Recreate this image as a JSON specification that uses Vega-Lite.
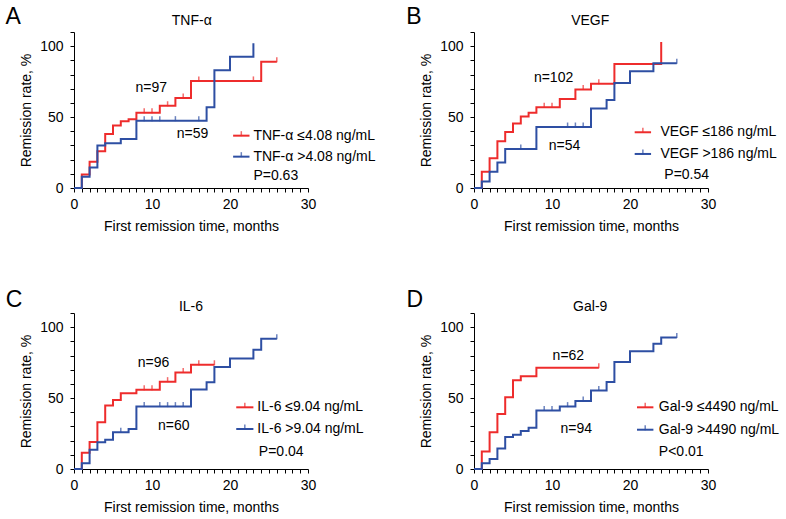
{
"$schema":"https://vega.github.io/schema/vega-lite/v6.json",
"padding":{"left":5,"top":6,"right":0,"bottom":0},
"background":"white",
"config":{"view":{"stroke":null},"font":"Liberation Sans",
 "axis":{"domainColor":"black","tickColor":"black","labelColor":"black","titleColor":"black","labelFontSize":14,"titleFontSize":14,"titleFontWeight":"normal","grid":false,"tickSize":4,"labelPadding":5,"labelOverlap":false,"labelFlush":false,"labelFont":"Liberation Sans","titleFont":"Liberation Sans"},
 "axisY":{"labelPadding":7},
 "text":{"font":"Liberation Sans","fontSize":14,"color":"black"}},
"datasets":{
 "curves":[
  {"p":"A","g":"low","t":0,"r":0},{"p":"A","g":"low","t":1,"r":9.5},{"p":"A","g":"low","t":2,"r":18.5},{"p":"A","g":"low","t":3,"r":26},{"p":"A","g":"low","t":4,"r":38},{"p":"A","g":"low","t":5,"r":44},{"p":"A","g":"low","t":6,"r":47},{"p":"A","g":"low","t":7,"r":48.5},{"p":"A","g":"low","t":8,"r":53},{"p":"A","g":"low","t":11,"r":58},{"p":"A","g":"low","t":13,"r":63.5},{"p":"A","g":"low","t":15,"r":75.5},{"p":"A","g":"low","t":24,"r":89},{"p":"A","g":"low","t":26,"r":89},
  {"p":"A","g":"high","t":0,"r":0},{"p":"A","g":"high","t":1,"r":8},{"p":"A","g":"high","t":2,"r":14.5},{"p":"A","g":"high","t":3,"r":30},{"p":"A","g":"high","t":4,"r":31.5},{"p":"A","g":"high","t":6,"r":34.5},{"p":"A","g":"high","t":8,"r":47.5},{"p":"A","g":"high","t":17,"r":57},{"p":"A","g":"high","t":18,"r":83},{"p":"A","g":"high","t":20,"r":92.5},{"p":"A","g":"high","t":23,"r":102},
  {"p":"B","g":"low","t":0,"r":0},{"p":"B","g":"low","t":1,"r":11.5},{"p":"B","g":"low","t":2,"r":21},{"p":"B","g":"low","t":3,"r":33},{"p":"B","g":"low","t":4,"r":39.5},{"p":"B","g":"low","t":5,"r":45.5},{"p":"B","g":"low","t":6,"r":50.5},{"p":"B","g":"low","t":7,"r":53},{"p":"B","g":"low","t":8,"r":57},{"p":"B","g":"low","t":11,"r":62.8},{"p":"B","g":"low","t":13,"r":69.5},{"p":"B","g":"low","t":15,"r":73.5},{"p":"B","g":"low","t":18,"r":87.5},{"p":"B","g":"low","t":24,"r":103},
  {"p":"B","g":"high","t":0,"r":0},{"p":"B","g":"high","t":1,"r":4.5},{"p":"B","g":"high","t":2,"r":11.5},{"p":"B","g":"high","t":3,"r":18},{"p":"B","g":"high","t":4,"r":27.5},{"p":"B","g":"high","t":8,"r":43},{"p":"B","g":"high","t":15,"r":56},{"p":"B","g":"high","t":17,"r":62},{"p":"B","g":"high","t":18,"r":74},{"p":"B","g":"high","t":20,"r":82.4},{"p":"B","g":"high","t":23,"r":88},{"p":"B","g":"high","t":26,"r":88},
  {"p":"C","g":"low","t":0,"r":0},{"p":"C","g":"low","t":1,"r":11.5},{"p":"C","g":"low","t":2,"r":19},{"p":"C","g":"low","t":3,"r":33},{"p":"C","g":"low","t":4,"r":44.7},{"p":"C","g":"low","t":5,"r":48.7},{"p":"C","g":"low","t":6,"r":53.5},{"p":"C","g":"low","t":8,"r":55.8},{"p":"C","g":"low","t":11,"r":61.6},{"p":"C","g":"low","t":13,"r":68},{"p":"C","g":"low","t":15,"r":73.5},{"p":"C","g":"low","t":18,"r":73.5},
  {"p":"C","g":"high","t":0,"r":0},{"p":"C","g":"high","t":1,"r":4},{"p":"C","g":"high","t":2,"r":13.5},{"p":"C","g":"high","t":3,"r":18.8},{"p":"C","g":"high","t":4,"r":20.7},{"p":"C","g":"high","t":5,"r":26},{"p":"C","g":"high","t":7,"r":28.2},{"p":"C","g":"high","t":8,"r":44},{"p":"C","g":"high","t":15,"r":56},{"p":"C","g":"high","t":17,"r":61.2},{"p":"C","g":"high","t":18,"r":72},{"p":"C","g":"high","t":20,"r":78},{"p":"C","g":"high","t":23,"r":84},{"p":"C","g":"high","t":24,"r":91.8},{"p":"C","g":"high","t":26,"r":91.8},
  {"p":"D","g":"low","t":0,"r":0},{"p":"D","g":"low","t":1,"r":12.4},{"p":"D","g":"low","t":2,"r":26},{"p":"D","g":"low","t":3,"r":38.8},{"p":"D","g":"low","t":4,"r":50.6},{"p":"D","g":"low","t":5,"r":62.6},{"p":"D","g":"low","t":6,"r":65.4},{"p":"D","g":"low","t":8,"r":71.4},{"p":"D","g":"low","t":16,"r":71.4},
  {"p":"D","g":"high","t":0,"r":0},{"p":"D","g":"high","t":1,"r":4},{"p":"D","g":"high","t":2,"r":7},{"p":"D","g":"high","t":3,"r":14.5},{"p":"D","g":"high","t":4,"r":22.5},{"p":"D","g":"high","t":5,"r":24.1},{"p":"D","g":"high","t":6,"r":26.8},{"p":"D","g":"high","t":7,"r":29},{"p":"D","g":"high","t":8,"r":41.2},{"p":"D","g":"high","t":11,"r":44},{"p":"D","g":"high","t":13,"r":48},{"p":"D","g":"high","t":15,"r":55.3},{"p":"D","g":"high","t":17,"r":61.4},{"p":"D","g":"high","t":18,"r":75.5},{"p":"D","g":"high","t":20,"r":83},{"p":"D","g":"high","t":23,"r":88.3},{"p":"D","g":"high","t":24,"r":92.7},{"p":"D","g":"high","t":26,"r":92.7}
 ],
 "censors":[
  {"p":"A","g":"low","t":9,"r":53},{"p":"A","g":"low","t":10,"r":53},{"p":"A","g":"low","t":12,"r":58},{"p":"A","g":"low","t":14,"r":63.5},{"p":"A","g":"low","t":16,"r":75.5},{"p":"A","g":"low","t":23,"r":75.5},{"p":"A","g":"low","t":26,"r":89},
  {"p":"A","g":"high","t":9,"r":47.5},{"p":"A","g":"high","t":10,"r":47.5},{"p":"A","g":"high","t":11,"r":47.5},{"p":"A","g":"high","t":13,"r":47.5},{"p":"A","g":"high","t":16,"r":47.5},
  {"p":"B","g":"low","t":9,"r":57},{"p":"B","g":"low","t":10,"r":57},{"p":"B","g":"low","t":14,"r":69.5},{"p":"B","g":"low","t":16,"r":73.5},
  {"p":"B","g":"high","t":6,"r":27.5},{"p":"B","g":"high","t":12,"r":43},{"p":"B","g":"high","t":13,"r":43},{"p":"B","g":"high","t":14,"r":43},{"p":"B","g":"high","t":26,"r":88},
  {"p":"C","g":"low","t":9,"r":55.8},{"p":"C","g":"low","t":10,"r":55.8},{"p":"C","g":"low","t":12,"r":61.6},{"p":"C","g":"low","t":14,"r":68},{"p":"C","g":"low","t":16,"r":73.5},{"p":"C","g":"low","t":18,"r":73.5},
  {"p":"C","g":"high","t":6,"r":26},{"p":"C","g":"high","t":9,"r":44},{"p":"C","g":"high","t":11,"r":44},{"p":"C","g":"high","t":12,"r":44},{"p":"C","g":"high","t":13,"r":44},{"p":"C","g":"high","t":14,"r":44},{"p":"C","g":"high","t":26,"r":91.8},
  {"p":"D","g":"low","t":16,"r":71.4},
  {"p":"D","g":"high","t":9,"r":41.2},{"p":"D","g":"high","t":10,"r":41.2},{"p":"D","g":"high","t":12,"r":44},{"p":"D","g":"high","t":14,"r":48},{"p":"D","g":"high","t":16,"r":55.3},{"p":"D","g":"high","t":26,"r":92.7}
 ]
},
"concat":[
 {"width":234,"height":156,"resolve":{"axis":{"x":"independent","y":"independent"}},"layer":[
  {"data":{"name":"curves"},"transform":[{"filter":"datum.p === 'A'"}],"mark":{"type":"line","interpolate":"step-after","strokeWidth":2},
   "encoding":{"x":{"field":"t","type":"quantitative","scale":{"domain":[0,30],"nice":false},"axis":{"title":"First remission time, months","values":[0,1,2,3,4,5,6,7,8,9,10,11,12,13,14,15,16,17,18,19,20,21,22,23,24,25,26,27,28,29,30],"labelExpr":"datum.value % 10 === 0 ? datum.label : ''","titlePadding":8}},
    "y":{"field":"r","type":"quantitative","scale":{"domain":[0,110],"nice":false},"axis":{"title":"Remission rate, %","values":[0,10,20,30,40,50,60,70,80,90,100,110],"labelExpr":"datum.value % 50 === 0 ? datum.label : ''","titlePadding":6}},
    "color":{"field":"g","type":"nominal","scale":{"domain":["low","high"],"range":["#EE2C2C","#2E4FA3"]},"legend":null}}},
  {"data":{"name":"censors"},"transform":[{"filter":"datum.p === 'A'"}],"mark":{"type":"tick","orient":"vertical","size":5,"thickness":1.5,"yOffset":-2},
   "encoding":{"x":{"field":"t","type":"quantitative","axis":null},"y":{"field":"r","type":"quantitative","axis":null},"color":{"field":"g","type":"nominal","legend":null}}},
  {"data":{"values":[{}]},"mark":{"type":"text","fontSize":23,"align":"center","baseline":"middle"},"encoding":{"x":{"datum":-7.8,"axis":null},"y":{"datum":120.5,"axis":null},"text":{"value":"A"}}},
  {"data":{"values":[{}]},"mark":{"type":"text","align":"center","baseline":"middle"},"encoding":{"x":{"datum":15.1,"axis":null},"y":{"datum":118,"axis":null},"text":{"value":"TNF-α"}}},
  {"data":{"values":[{}]},"mark":{"type":"text","align":"center","baseline":"middle"},"encoding":{"x":{"datum":9.9,"axis":null},"y":{"datum":70.8,"axis":null},"text":{"value":"n=97"}}},
  {"data":{"values":[{}]},"mark":{"type":"text","align":"center","baseline":"middle"},"encoding":{"x":{"datum":15.2,"axis":null},"y":{"datum":38.1,"axis":null},"text":{"value":"n=59"}}},
  {"data":{"values":[{}]},"mark":{"type":"rule","color":"#EE2C2C","strokeWidth":2},"encoding":{"x":{"datum":20.4,"axis":null},"x2":{"datum":22.5},"y":{"datum":36.9,"axis":null}}},
  {"data":{"values":[{}]},"mark":{"type":"tick","orient":"vertical","size":5,"thickness":1.5,"yOffset":-2,"color":"#EE2C2C"},"encoding":{"x":{"datum":21.45,"axis":null},"y":{"datum":36.9,"axis":null}}},
  {"data":{"values":[{}]},"mark":{"type":"text","align":"left","baseline":"middle"},"encoding":{"x":{"datum":23.0,"axis":null},"y":{"datum":36.9,"axis":null},"text":{"value":"TNF-α ≤4.08 ng/mL"}}},
  {"data":{"values":[{}]},"mark":{"type":"rule","color":"#2E4FA3","strokeWidth":2},"encoding":{"x":{"datum":20.4,"axis":null},"x2":{"datum":22.5},"y":{"datum":22.1,"axis":null}}},
  {"data":{"values":[{}]},"mark":{"type":"tick","orient":"vertical","size":5,"thickness":1.5,"yOffset":-2,"color":"#2E4FA3"},"encoding":{"x":{"datum":21.45,"axis":null},"y":{"datum":22.1,"axis":null}}},
  {"data":{"values":[{}]},"mark":{"type":"text","align":"left","baseline":"middle"},"encoding":{"x":{"datum":23.0,"axis":null},"y":{"datum":22.1,"axis":null},"text":{"value":"TNF-α >4.08 ng/mL"}}},
  {"data":{"values":[{}]},"mark":{"type":"text","align":"left","baseline":"middle"},"encoding":{"x":{"datum":23.0,"axis":null},"y":{"datum":8.7,"axis":null},"text":{"value":"P=0.63"}}}
 ]},
 {"width":234,"height":156,"resolve":{"axis":{"x":"independent","y":"independent"}},"layer":[
  {"data":{"name":"curves"},"transform":[{"filter":"datum.p === 'B'"}],"mark":{"type":"line","interpolate":"step-after","strokeWidth":2},
   "encoding":{"x":{"field":"t","type":"quantitative","scale":{"domain":[0,30],"nice":false},"axis":{"title":"First remission time, months","values":[0,1,2,3,4,5,6,7,8,9,10,11,12,13,14,15,16,17,18,19,20,21,22,23,24,25,26,27,28,29,30],"labelExpr":"datum.value % 10 === 0 ? datum.label : ''","titlePadding":8}},
    "y":{"field":"r","type":"quantitative","scale":{"domain":[0,110],"nice":false},"axis":{"title":"Remission rate, %","values":[0,10,20,30,40,50,60,70,80,90,100,110],"labelExpr":"datum.value % 50 === 0 ? datum.label : ''","titlePadding":6}},
    "color":{"field":"g","type":"nominal","scale":{"domain":["low","high"],"range":["#EE2C2C","#2E4FA3"]},"legend":null}}},
  {"data":{"name":"censors"},"transform":[{"filter":"datum.p === 'B'"}],"mark":{"type":"tick","orient":"vertical","size":5,"thickness":1.5,"yOffset":-2},
   "encoding":{"x":{"field":"t","type":"quantitative","axis":null},"y":{"field":"r","type":"quantitative","axis":null},"color":{"field":"g","type":"nominal","legend":null}}},
  {"data":{"values":[{}]},"mark":{"type":"text","fontSize":23,"align":"center","baseline":"middle"},"encoding":{"x":{"datum":-7.7,"axis":null},"y":{"datum":120.5,"axis":null},"text":{"value":"B"}}},
  {"data":{"values":[{}]},"mark":{"type":"text","align":"center","baseline":"middle"},"encoding":{"x":{"datum":14.9,"axis":null},"y":{"datum":118,"axis":null},"text":{"value":"VEGF"}}},
  {"data":{"values":[{}]},"mark":{"type":"text","align":"center","baseline":"middle"},"encoding":{"x":{"datum":10.2,"axis":null},"y":{"datum":77.7,"axis":null},"text":{"value":"n=102"}}},
  {"data":{"values":[{}]},"mark":{"type":"text","align":"center","baseline":"middle"},"encoding":{"x":{"datum":11.6,"axis":null},"y":{"datum":29.9,"axis":null},"text":{"value":"n=54"}}},
  {"data":{"values":[{}]},"mark":{"type":"rule","color":"#EE2C2C","strokeWidth":2},"encoding":{"x":{"datum":20.6,"axis":null},"x2":{"datum":22.7},"y":{"datum":39.3,"axis":null}}},
  {"data":{"values":[{}]},"mark":{"type":"tick","orient":"vertical","size":5,"thickness":1.5,"yOffset":-2,"color":"#EE2C2C"},"encoding":{"x":{"datum":21.65,"axis":null},"y":{"datum":39.3,"axis":null}}},
  {"data":{"values":[{}]},"mark":{"type":"text","align":"left","baseline":"middle"},"encoding":{"x":{"datum":23.9,"axis":null},"y":{"datum":39.3,"axis":null},"text":{"value":"VEGF ≤186 ng/mL"}}},
  {"data":{"values":[{}]},"mark":{"type":"rule","color":"#2E4FA3","strokeWidth":2},"encoding":{"x":{"datum":20.6,"axis":null},"x2":{"datum":22.7},"y":{"datum":24.0,"axis":null}}},
  {"data":{"values":[{}]},"mark":{"type":"tick","orient":"vertical","size":5,"thickness":1.5,"yOffset":-2,"color":"#2E4FA3"},"encoding":{"x":{"datum":21.65,"axis":null},"y":{"datum":24.0,"axis":null}}},
  {"data":{"values":[{}]},"mark":{"type":"text","align":"left","baseline":"middle"},"encoding":{"x":{"datum":23.9,"axis":null},"y":{"datum":24.0,"axis":null},"text":{"value":"VEGF >186 ng/mL"}}},
  {"data":{"values":[{}]},"mark":{"type":"text","align":"left","baseline":"middle"},"encoding":{"x":{"datum":24.4,"axis":null},"y":{"datum":9.4,"axis":null},"text":{"value":"P=0.54"}}}
 ]},
 {"width":234,"height":156,"resolve":{"axis":{"x":"independent","y":"independent"}},"layer":[
  {"data":{"name":"curves"},"transform":[{"filter":"datum.p === 'C'"}],"mark":{"type":"line","interpolate":"step-after","strokeWidth":2},
   "encoding":{"x":{"field":"t","type":"quantitative","scale":{"domain":[0,30],"nice":false},"axis":{"title":"First remission time, months","values":[0,1,2,3,4,5,6,7,8,9,10,11,12,13,14,15,16,17,18,19,20,21,22,23,24,25,26,27,28,29,30],"labelExpr":"datum.value % 10 === 0 ? datum.label : ''","titlePadding":8}},
    "y":{"field":"r","type":"quantitative","scale":{"domain":[0,110],"nice":false},"axis":{"title":"Remission rate, %","values":[0,10,20,30,40,50,60,70,80,90,100,110],"labelExpr":"datum.value % 50 === 0 ? datum.label : ''","titlePadding":6}},
    "color":{"field":"g","type":"nominal","scale":{"domain":["low","high"],"range":["#EE2C2C","#2E4FA3"]},"legend":null}}},
  {"data":{"name":"censors"},"transform":[{"filter":"datum.p === 'C'"}],"mark":{"type":"tick","orient":"vertical","size":5,"thickness":1.5,"yOffset":-2},
   "encoding":{"x":{"field":"t","type":"quantitative","axis":null},"y":{"field":"r","type":"quantitative","axis":null},"color":{"field":"g","type":"nominal","legend":null}}},
  {"data":{"values":[{}]},"mark":{"type":"text","fontSize":23,"align":"center","baseline":"middle"},"encoding":{"x":{"datum":-7.7,"axis":null},"y":{"datum":119,"axis":null},"text":{"value":"C"}}},
  {"data":{"values":[{}]},"mark":{"type":"text","align":"center","baseline":"middle"},"encoding":{"x":{"datum":15,"axis":null},"y":{"datum":114,"axis":null},"text":{"value":"IL-6"}}},
  {"data":{"values":[{}]},"mark":{"type":"text","align":"center","baseline":"middle"},"encoding":{"x":{"datum":10.2,"axis":null},"y":{"datum":74.6,"axis":null},"text":{"value":"n=96"}}},
  {"data":{"values":[{}]},"mark":{"type":"text","align":"center","baseline":"middle"},"encoding":{"x":{"datum":12.8,"axis":null},"y":{"datum":30.6,"axis":null},"text":{"value":"n=60"}}},
  {"data":{"values":[{}]},"mark":{"type":"rule","color":"#EE2C2C","strokeWidth":2},"encoding":{"x":{"datum":20.8,"axis":null},"x2":{"datum":23.0},"y":{"datum":43.5,"axis":null}}},
  {"data":{"values":[{}]},"mark":{"type":"tick","orient":"vertical","size":5,"thickness":1.5,"yOffset":-2,"color":"#EE2C2C"},"encoding":{"x":{"datum":21.9,"axis":null},"y":{"datum":43.5,"axis":null}}},
  {"data":{"values":[{}]},"mark":{"type":"text","align":"left","baseline":"middle"},"encoding":{"x":{"datum":23.5,"axis":null},"y":{"datum":43.5,"axis":null},"text":{"value":"IL-6 ≤9.04 ng/mL"}}},
  {"data":{"values":[{}]},"mark":{"type":"rule","color":"#2E4FA3","strokeWidth":2},"encoding":{"x":{"datum":20.8,"axis":null},"x2":{"datum":23.0},"y":{"datum":28.2,"axis":null}}},
  {"data":{"values":[{}]},"mark":{"type":"tick","orient":"vertical","size":5,"thickness":1.5,"yOffset":-2,"color":"#2E4FA3"},"encoding":{"x":{"datum":21.9,"axis":null},"y":{"datum":28.2,"axis":null}}},
  {"data":{"values":[{}]},"mark":{"type":"text","align":"left","baseline":"middle"},"encoding":{"x":{"datum":23.5,"axis":null},"y":{"datum":28.2,"axis":null},"text":{"value":"IL-6 >9.04 ng/mL"}}},
  {"data":{"values":[{}]},"mark":{"type":"text","align":"left","baseline":"middle"},"encoding":{"x":{"datum":23.7,"axis":null},"y":{"datum":11.7,"axis":null},"text":{"value":"P=0.04"}}}
 ]},
 {"width":234,"height":156,"resolve":{"axis":{"x":"independent","y":"independent"}},"layer":[
  {"data":{"name":"curves"},"transform":[{"filter":"datum.p === 'D'"}],"mark":{"type":"line","interpolate":"step-after","strokeWidth":2},
   "encoding":{"x":{"field":"t","type":"quantitative","scale":{"domain":[0,30],"nice":false},"axis":{"title":"First remission time, months","values":[0,1,2,3,4,5,6,7,8,9,10,11,12,13,14,15,16,17,18,19,20,21,22,23,24,25,26,27,28,29,30],"labelExpr":"datum.value % 10 === 0 ? datum.label : ''","titlePadding":8}},
    "y":{"field":"r","type":"quantitative","scale":{"domain":[0,110],"nice":false},"axis":{"title":"Remission rate, %","values":[0,10,20,30,40,50,60,70,80,90,100,110],"labelExpr":"datum.value % 50 === 0 ? datum.label : ''","titlePadding":6}},
    "color":{"field":"g","type":"nominal","scale":{"domain":["low","high"],"range":["#EE2C2C","#2E4FA3"]},"legend":null}}},
  {"data":{"name":"censors"},"transform":[{"filter":"datum.p === 'D'"}],"mark":{"type":"tick","orient":"vertical","size":5,"thickness":1.5,"yOffset":-2},
   "encoding":{"x":{"field":"t","type":"quantitative","axis":null},"y":{"field":"r","type":"quantitative","axis":null},"color":{"field":"g","type":"nominal","legend":null}}},
  {"data":{"values":[{}]},"mark":{"type":"text","fontSize":23,"align":"center","baseline":"middle"},"encoding":{"x":{"datum":-7.6,"axis":null},"y":{"datum":119,"axis":null},"text":{"value":"D"}}},
  {"data":{"values":[{}]},"mark":{"type":"text","align":"center","baseline":"middle"},"encoding":{"x":{"datum":14.9,"axis":null},"y":{"datum":114,"axis":null},"text":{"value":"Gal-9"}}},
  {"data":{"values":[{}]},"mark":{"type":"text","align":"center","baseline":"middle"},"encoding":{"x":{"datum":12.1,"axis":null},"y":{"datum":80,"axis":null},"text":{"value":"n=62"}}},
  {"data":{"values":[{}]},"mark":{"type":"text","align":"center","baseline":"middle"},"encoding":{"x":{"datum":13.1,"axis":null},"y":{"datum":28.2,"axis":null},"text":{"value":"n=94"}}},
  {"data":{"values":[{}]},"mark":{"type":"rule","color":"#EE2C2C","strokeWidth":2},"encoding":{"x":{"datum":20.9,"axis":null},"x2":{"datum":23.0},"y":{"datum":43.5,"axis":null}}},
  {"data":{"values":[{}]},"mark":{"type":"tick","orient":"vertical","size":5,"thickness":1.5,"yOffset":-2,"color":"#EE2C2C"},"encoding":{"x":{"datum":21.95,"axis":null},"y":{"datum":43.5,"axis":null}}},
  {"data":{"values":[{}]},"mark":{"type":"text","align":"left","baseline":"middle"},"encoding":{"x":{"datum":23.7,"axis":null},"y":{"datum":43.5,"axis":null},"text":{"value":"Gal-9 ≤4490 ng/mL"}}},
  {"data":{"values":[{}]},"mark":{"type":"rule","color":"#2E4FA3","strokeWidth":2},"encoding":{"x":{"datum":20.9,"axis":null},"x2":{"datum":23.0},"y":{"datum":27.7,"axis":null}}},
  {"data":{"values":[{}]},"mark":{"type":"tick","orient":"vertical","size":5,"thickness":1.5,"yOffset":-2,"color":"#2E4FA3"},"encoding":{"x":{"datum":21.95,"axis":null},"y":{"datum":27.7,"axis":null}}},
  {"data":{"values":[{}]},"mark":{"type":"text","align":"left","baseline":"middle"},"encoding":{"x":{"datum":23.7,"axis":null},"y":{"datum":27.7,"axis":null},"text":{"value":"Gal-9 >4490 ng/mL"}}},
  {"data":{"values":[{}]},"mark":{"type":"text","align":"left","baseline":"middle"},"encoding":{"x":{"datum":23.7,"axis":null},"y":{"datum":11.7,"axis":null},"text":{"value":"P<0.01"}}}
 ]}
],
"columns":2,
"spacing":{"row":125,"column":166},
"bounds":"flush"
}
